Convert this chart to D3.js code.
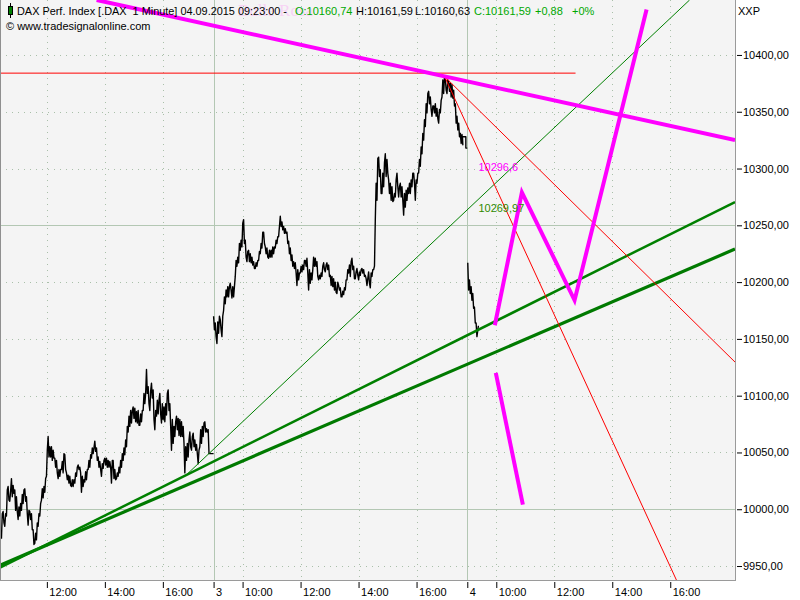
<!DOCTYPE html>
<html><head><meta charset="utf-8">
<script src="https://cdn.jsdelivr.net/npm/d3@7/dist/d3.min.js"></script>
<style>
html,body{margin:0;padding:0;background:#fff;}
svg{display:block;font-family:"Liberation Sans",Arial,sans-serif;}
text{white-space:pre;}
</style></head><body>
<svg id="c" width="800" height="600"></svg>
<script>
// ---------------- DATA ----------------
const SESSION_OPEN = "09:00";
const SESSION_HOURS = 8.75;          // 09:00 - 17:45
const SAMPLE_STEP_MIN = 3.45;        // minutes between hi/lo samples
const dayLabels = ["2", "3", "4"];

// Sept 2 (day index 0): [high, low] per sample, starting 10:26
const day2Start = "10:26";
const day2HiLo = [
[9996,9974],[9998,9988],[9996,9985],[10017,9994],[10020,10008],[10016,10007],[10027,10011],[10021,10014],[10017,9999],[10011,9998],
[10002,9991],[10005,9994],[10013,9999],[10017,10005],[10018,10007],[10011,9996],[9999,9986],[9998,9991],[9996,9982],[9982,9969],
[9979,9970],[9988,9973],[9996,9985],[10005,9994],[10018,10008],[10020,10010],[10027,10015],[10052,10029],[10064,10046],[10055,10046],
[10055,10043],[10052,10045],[10045,10037],[10043,10032],[10035,10027],[10035,10029],[10042,10035],[10049,10032],[10048,10035],[10032,10026],
[10030,10023],[10029,10021],[10026,10020],[10026,10020],[10032,10023],[10037,10029],[10039,10035],[10037,10032],[10029,10015],[10026,10020],
[10033,10024],[10035,10026],[10043,10035],[10048,10037],[10054,10045],[10054,10049],[10060,10051],[10054,10043],[10046,10037],[10042,10035],
[10040,10029],[10043,10036],[10045,10039],[10045,10037],[10043,10037],
[10042,10037],[10043,10023],[10043,10027],[10035,10026],[10032,10027],[10037,10029],[10043,10032],[10049,10037],[10054,10043],[10061,10048],
[10073,10055],[10082,10068],[10087,10073],[10087,10076],[10090,10080],[10089,10077],[10086,10076],[10087,10074],[10084,10074],[10087,10077],
[10102,10087],[10102,10093],[10123,10102],[10108,10093],[10104,10087],[10111,10098],[10105,10079],[10087,10070],[10096,10082],[10096,10084],
[10102,10084],[10093,10076],[10090,10079],[10093,10077],[10102,10083],[10105,10087],[10093,10073],[10079,10052],[10073,10058],[10077,10064],
[10082,10070],[10080,10065],[10079,10064],[10077,10064],[10073,10058],[10055,10032],[10058,10043],[10061,10046],[10068,10055],[10064,10052],
[10067,10055],[10061,10052],[10057,10049],[10052,10040],[10070,10055],[10073,10058],[10076,10064],[10077,10068],[10071,10068],[10070,10049]
];
const day2Tail = [["17:35",10049],["17:45",10049]];

// Sept 3 (day index 1)
const day3Start = "09:00";
const day3HiLo = [
[10170,10158],[10164,10152],[10165,10146],[10170,10155],[10167,10158],[10170,10152],[10187,10175],[10193,10181],[10196,10187],[10196,10187],
[10199,10193],[10196,10186],[10196,10187],[10219,10205],[10222,10214],[10234,10217],[10237,10228],[10252,10231],[10255,10234],[10237,10222],
[10227,10218],[10228,10218],[10225,10217],[10222,10215],[10218,10212],[10217,10212],[10219,10214],[10227,10219],[10234,10225],[10244,10230],
[10244,10234],[10231,10225],[10230,10222],[10228,10221],[10228,10222],[10231,10222],[10231,10225],[10237,10230],[10240,10234],[10249,10240],
[10258,10249],[10253,10246],[10249,10243],[10247,10243],[10244,10234],[10236,10225],[10230,10219],[10224,10214],[10218,10212],[10217,10208],
[10211,10197],[10208,10202],[10214,10208],[10215,10209],[10219,10211],[10219,10214],[10221,10208],[10211,10193],[10208,10199],[10211,10202],
[10222,10214],[10221,10214],[10218,10205],[10206,10202],[10208,10203],[10214,10205],[10217,10211],[10215,10209],[10217,10211],[10215,10205],
[10206,10197],[10205,10196],[10203,10193],[10200,10191],[10200,10190],[10197,10193],[10195,10187],[10192,10187],[10195,10189],[10202,10193],
[10211,10202],[10215,10208],[10218,10205],[10221,10211],[10214,10203],[10209,10203],[10212,10206],[10209,10202],[10211,10206],[10212,10208],
[10211,10205],[10206,10203],[10203,10197],[10209,10199],[10208,10195],[10211,10205],[10214,10211],
[10287,10255],[10309,10272],[10310,10293],[10299,10278],[10296,10278],[10305,10284],[10313,10293],[10308,10296],[10290,10278],[10287,10272],
[10284,10271],[10278,10272],[10290,10275],[10296,10284],[10284,10275],[10287,10275],[10284,10272],[10278,10259],[10281,10266],[10283,10272],
[10287,10278],[10290,10278],[10296,10284],[10296,10287],[10290,10272],[10296,10287],[10308,10296],[10319,10302],[10331,10313],[10343,10325],
[10357,10337],[10366,10349],[10368,10357],[10363,10352],[10355,10346],[10355,10349],[10357,10346],[10353,10344],[10352,10340],[10360,10349],
[10378,10363],[10381,10366],[10379,10369],[10378,10366],[10377,10368],[10375,10363],[10374,10362],[10369,10355],[10357,10340],[10346,10334],
[10340,10328],[10331,10322],[10330,10321]
];
const day3Tail = [["17:35",10328],["17:42",10328],["17:42",10318],["17:45",10318]];

// Sept 4 (day index 2)
const day4Start = "09:01";
const day4HiLo = [[10217,10193],[10202,10190],[10196,10184],[10190,10177],[10178,10164],[10164,10152]];
const day4Tail = [["09:23",10161.59]];

// Drawn studies: points as [dayIndex, "HH:MM", price]
const redHorizontal   = [[0,"09:00",10384],[2,"12:44",10384]];
const redFanShallow   = [[1,"16:58",10381],[2,"18:14",10129.6]];
const redFanSteep     = [[1,"16:58",10381],[2,"16:20",9931]];
const greenThin       = [[0,"16:48",10030],[2,"16:40",10448.4]];
const greenThickUpper = [[0,"10:23",9948.5],[2,"18:14",10270.5]];
const greenThickLower = [[0,"10:23",9950.6],[2,"18:14",10229.1]];
const pinkTrend       = [[0,"13:43",10448.4],[2,"18:14",10325.1]];
const pinkZigzag      = [[2,"09:57",10162],[2,"10:53",10279],[2,"12:42",10184],[2,"15:11",10440]];
const pinkShort       = [[2,"09:59",10120],[2,"10:55",10004]];
const valueLabels     = [{t:[2,"09:23"], v:10296.6, text:"10296,6", color:"#ff00ff", above:true},
                         {t:[2,"09:23"], v:10269.97, text:"10269,97", color:"#2f8a00", above:false}];

// Axes
const yTickValues = [9950,10000,10050,10100,10150,10200,10250,10300,10350,10400];
const xTickDays   = [0,0,0,1,1,1,1,1,2,2,2,2,2];
const xTickTimes  = ["12:00","14:00","16:00","09:00","10:00","12:00","14:00","16:00","09:00","10:00","12:00","14:00","16:00"];
const xTickLabels = ["12:00","14:00","16:00","3","10:00","12:00","14:00","16:00","4","10:00","12:00","14:00","16:00"];
const viewStart = [0,"10:23"], viewEnd = [2,"18:14"];
const yView = [9937.7, 10448.4];

// ---------------- DRAW ----------------
const toMin = s => { const [h,m]=s.split(":").map(Number); return h*60+m; };
const OPEN = toMin(SESSION_OPEN);
const U = (day, hhmm) => day*SESSION_HOURS + (toMin(hhmm)-OPEN)/60;

const W = 735, H = 580;
const svg = d3.select("#c");
const x = d3.scaleLinear().domain([U(...viewStart), U(...viewEnd)]).range([0, W]);
const y = d3.scaleLinear().domain(yView).range([H, 0]);

svg.append("rect").attr("width",800).attr("height",600).attr("fill","#fff");
svg.append("rect").attr("x",0).attr("y",0).attr("width",W).attr("height",H).attr("fill","#f4f4f4");
svg.append("defs").append("clipPath").attr("id","clip").append("rect").attr("width",W).attr("height",H);
const plot = svg.append("g").attr("clip-path","url(#clip)");

// grid
const xTickU = xTickDays.map((d,i)=>U(d,xTickTimes[i]));
yTickValues.forEach(v=>{
  const major = v % 250 === 0;
  plot.append("line").attr("x1",0).attr("x2",W).attr("y1",Math.round(y(v))+0.5).attr("y2",Math.round(y(v))+0.5)
    .attr("stroke", major ? "#b3c7b3" : "#a9bfa9").attr("stroke-width",1)
    .attr("stroke-dasharray", major ? null : "1,5");
});
xTickU.forEach((u,i)=>{
  const major = xTickTimes[i] === SESSION_OPEN;
  plot.append("line").attr("y1",0).attr("y2",H).attr("x1",Math.round(x(u))+0.5).attr("x2",Math.round(x(u))+0.5)
    .attr("stroke", major ? "#b3c7b3" : "#a9bfa9").attr("stroke-width",1)
    .attr("stroke-dasharray", major ? null : "1,5");
});

// price
function buildDay(dayIdx, start, pairs, tail){
  const pts=[]; const s=toMin(start);
  pairs.forEach((p,i)=>{
    const t0 = s + i*SAMPLE_STEP_MIN;
    const mid=(p[0]+p[1])/2, nx=pairs[i+1];
    const rising = nx ? (nx[0]+nx[1])/2 >= mid : false;
    const a = rising ? p[1] : p[0], b = rising ? p[0] : p[1];
    pts.push([dayIdx*SESSION_HOURS + (t0-OPEN)/60, a]);
    pts.push([dayIdx*SESSION_HOURS + (t0+SAMPLE_STEP_MIN/2-OPEN)/60, b]);
  });
  tail.forEach(([t,v])=>pts.push([U(dayIdx,t), v]));
  return pts;
}
const line = d3.line().x(d=>x(d[0])).y(d=>y(d[1]));
[[0,day2Start,day2HiLo,day2Tail],[1,day3Start,day3HiLo,day3Tail],[2,day4Start,day4HiLo,day4Tail]].forEach(([d,s,p,t])=>{
  plot.append("path").datum(buildDay(d,s,p,t)).attr("d",line)
    .attr("fill","none").attr("stroke","#000").attr("stroke-width",1.4).attr("stroke-linejoin","round");
});

// studies
const pts = arr => arr.map(([d,t,v])=>[U(d,t),v]);
function study(arr, color, w){
  plot.append("path").datum(pts(arr)).attr("d",line).attr("fill","none")
    .attr("stroke",color).attr("stroke-width",w).attr("stroke-linejoin","miter");
}
study(greenThin, "#008000", 1);
study(greenThickLower, "#007a00", 3.2);
study(greenThickUpper, "#008000", 2.5);
study(redHorizontal, "#ff0000", 1);
study(redFanShallow, "#ff0000", 1);
study(redFanSteep, "#ff0000", 1);
study(pinkTrend, "#ff00ff", 4);
study(pinkZigzag, "#ff00ff", 4);
study(pinkShort, "#ff00ff", 4);

valueLabels.forEach(l=>{
  plot.append("text").attr("x",x(U(...l.t))).attr("y",y(l.v)).attr("dy", l.above ? "-0.15em" : "0.85em")
    .attr("font-size",11).attr("fill",l.color).text(l.text);
});

// frame
svg.append("line").attr("x1",0.5).attr("x2",0.5).attr("y1",0).attr("y2",H+0.5).attr("stroke","#8f8f8f");
svg.append("line").attr("x1",W+0.5).attr("x2",W+0.5).attr("y1",0).attr("y2",H+0.5).attr("stroke","#9a9a9a");
svg.append("line").attr("x1",0).attr("x2",W+1).attr("y1",H+0.5).attr("y2",H+0.5).attr("stroke","#9a9a9a");

// y axis
const fmt = d3.formatLocale({decimal:",",thousands:"",grouping:[3],currency:["","€"]}).format(".2f");
const ya = svg.append("g").attr("transform",`translate(${W+2},0)`)
  .call(d3.axisRight(y).tickValues(yTickValues).tickFormat(fmt).tickSize(5).tickPadding(1));
ya.select(".domain").remove();
ya.selectAll("line").attr("stroke","#000");
ya.selectAll("text").attr("font-size",11).attr("font-family","Liberation Sans, Arial, sans-serif").attr("fill","#000");

// x axis
const xa = svg.append("g").attr("transform",`translate(0,${H+2})`)
  .call(d3.axisBottom(x).tickValues(xTickU).tickFormat((d,i)=>xTickLabels[i]).tickSize(6));
xa.select(".domain").remove();
xa.selectAll("line").attr("stroke","#000");
xa.selectAll("text").attr("x",2).attr("y",14).attr("dy",null).attr("text-anchor","start")
  .attr("font-size",11).attr("font-family","Liberation Sans, Arial, sans-serif").attr("fill","#000");

svg.append("text").attr("x",738).attr("y",15).attr("font-size",11).text("XXP");

// header
svg.append("text").attr("x",238).attr("y",16).attr("font-size",17).attr("font-family","Liberation Serif, serif")
  .attr("fill","#f7d2f4").text("Bulle Rosa");
const hdr = svg.append("g").attr("font-size",11);
hdr.append("line").attr("x1",10.5).attr("x2",10.5).attr("y1",3).attr("y2",18).attr("stroke","#000");
hdr.append("rect").attr("x",8.5).attr("y",6.5).attr("width",4).attr("height",8).attr("fill","#008000").attr("stroke","#000");
const hdrParts = [
  {x:17,  t:"DAX Perf. Index [.DAX  1 Minute] 04.09.2015 09:23:00 -", c:"#000", w:270},
  {x:295, t:"O:10160,74", c:"#00a800"},
  {x:356, t:"H:10161,59", c:"#000"},
  {x:415, t:"L:10160,63", c:"#000"},
  {x:474, t:"C:10161,59", c:"#00a800"},
  {x:535, t:"+0,88", c:"#00a800"},
  {x:572, t:"+0%", c:"#00a800"}
];
hdrParts.forEach(p=>{
  const t = hdr.append("text").attr("x",p.x).attr("y",15).attr("fill",p.c).text(p.t);
  if (p.w) t.attr("textLength",p.w).attr("lengthAdjust","spacingAndGlyphs");
});
hdr.append("text").attr("x",6).attr("y",30).attr("fill","#000").text("© www.tradesignalonline.com");
</script>
</body></html>
